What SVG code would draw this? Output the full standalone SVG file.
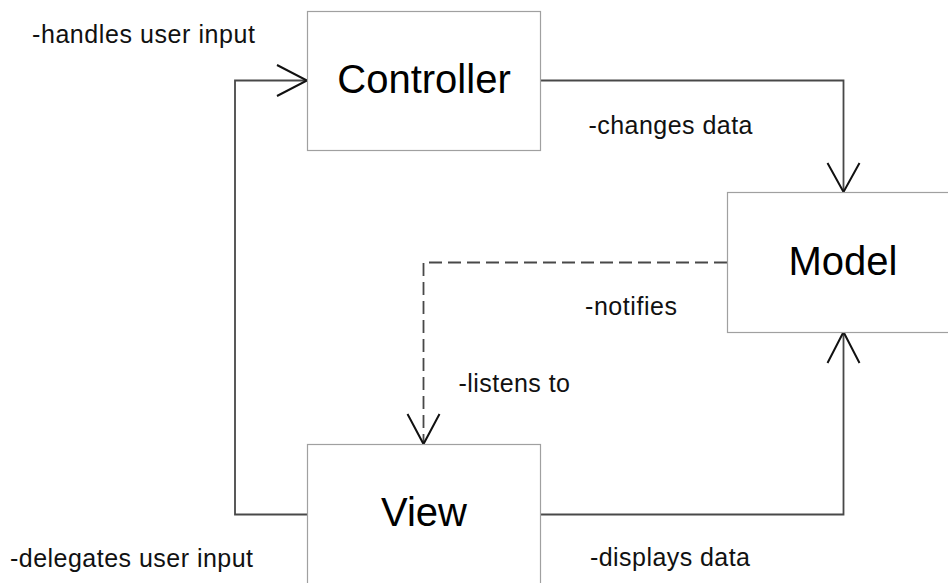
<svg xmlns="http://www.w3.org/2000/svg" width="948" height="583" viewBox="0 0 948 583">
<style>
.box{fill:#fff;stroke:#a0a0a0;stroke-width:1.2}
.big{font-family:"Liberation Sans",Arial,sans-serif;font-size:40px;fill:#000;text-anchor:middle}
.lbl{font-family:"Liberation Sans",Arial,sans-serif;font-size:25px;fill:#111}
.conn{fill:none;stroke:#484848;stroke-width:1.8}
.dash{stroke-dasharray:13 6}
.head{fill:none;stroke:#111;stroke-width:2;stroke-linejoin:miter}
</style>
<rect width="948" height="583" fill="#fff"/>
<g id="connectors">
  <path class="conn" d="M540,80.5 H843.5 V192"/>
  <path class="head" d="M827.5,163 L843.5,192 L859.5,163"/>
  <path class="conn" d="M307,514.5 H235 V80.5 H307"/>
  <path class="head" d="M277,65 L307,80.5 L277,96"/>
  <path class="conn" d="M540,514.5 H843.5 V332"/>
  <path class="head" d="M827.5,363 L843.5,332 L859.5,363"/>
  <path class="conn dash" d="M727,262.5 H423.5 V444"/>
  <path class="head" d="M407.5,414 L423.5,444 L439.5,414"/>
</g>
<g id="controller">
  <rect class="box" x="307.5" y="11.5" width="233" height="139"/>
  <text class="big" x="424" y="92.5">Controller</text>
</g>
<g id="model">
  <rect class="box" x="727.5" y="192.5" width="233" height="140"/>
  <text class="big" x="843" y="274.5">Model</text>
</g>
<g id="view">
  <rect class="box" x="307.5" y="444.5" width="233" height="140"/>
  <text class="big" x="424" y="525.5">View</text>
</g>
<g id="labels">
  <text class="lbl" x="32" y="42.5" textLength="223" lengthAdjust="spacing">-handles user input</text>
  <text class="lbl" x="10" y="566.5" textLength="243" lengthAdjust="spacing">-delegates user input</text>
  <text class="lbl" x="588.5" y="133.5" textLength="164" lengthAdjust="spacing">-changes data</text>
  <text class="lbl" x="590" y="566" textLength="160" lengthAdjust="spacing">-displays data</text>
  <text class="lbl" x="585" y="315" textLength="92" lengthAdjust="spacing">-notifies</text>
  <text class="lbl" x="458.5" y="391.5" textLength="111.5" lengthAdjust="spacing">-listens to</text>
</g>
</svg>
